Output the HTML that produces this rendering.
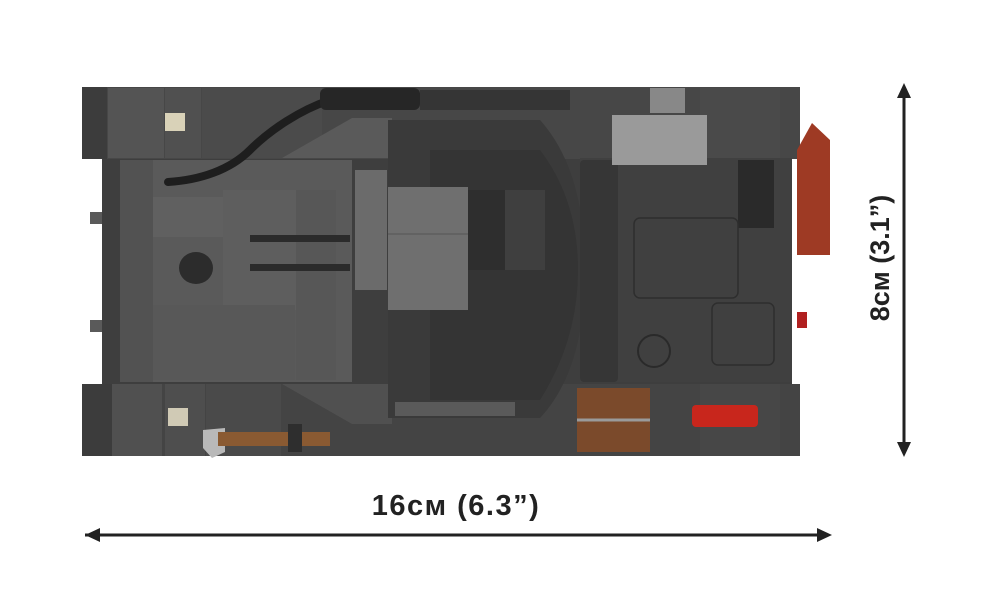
<!DOCTYPE html>
<html><head><meta charset="utf-8"><style>
html,body{margin:0;padding:0;background:#fff;width:996px;height:590px;overflow:hidden}
svg{display:block}
</style></head><body>
<svg width="996" height="590" viewBox="0 0 996 590" xmlns="http://www.w3.org/2000/svg">
<rect x="90" y="212" width="30" height="12" fill="#5a5a5a"/>
<rect x="90" y="320" width="30" height="12" fill="#5a5a5a"/>
<rect x="102" y="158" width="690" height="226" fill="#3e3e3e"/>
<rect x="82" y="87" width="718" height="72" fill="#474747"/>
<rect x="82" y="87" width="25" height="72" fill="#3c3c3c"/>
<rect x="108" y="88" width="56" height="70" fill="#545454"/>
<rect x="165" y="88" width="36" height="70" fill="#505050"/>
<rect x="202" y="88" width="120" height="70" fill="#4b4b4b"/>
<rect x="420" y="90" width="150" height="20" fill="#353535"/>
<rect x="700" y="88" width="80" height="70" fill="#4a4a4a"/>
<rect x="82" y="384" width="718" height="72" fill="#444"/>
<rect x="82" y="384" width="30" height="72" fill="#3c3c3c"/>
<rect x="112" y="384" width="50" height="72" fill="#505050"/>
<rect x="165" y="384" width="40" height="72" fill="#4e4e4e"/>
<rect x="206" y="384" width="75" height="72" fill="#4a4a4a"/>
<rect x="700" y="384" width="80" height="72" fill="#474747"/>
<rect x="120" y="160" width="232" height="222" fill="#5a5a5a"/>
<rect x="120" y="160" width="33" height="222" fill="#525252"/>
<rect x="153" y="197" width="70" height="40" fill="#606060"/>
<rect x="223" y="190" width="73" height="120" fill="#5e5e5e"/>
<rect x="153" y="305" width="142" height="75" fill="#585858"/>
<rect x="296" y="190" width="40" height="190" fill="#575757"/>
<polygon points="282,158 352,118 392,118 392,158" fill="#5a5a5a"/>
<polygon points="282,384 352,424 392,424 392,384" fill="#505050"/>
<path d="M388 120 L540 120 Q585 170 585 270 Q585 370 540 418 L388 418 Z" fill="#3a3a3a"/>
<path d="M430 150 L540 150 Q578 200 578 270 Q578 340 540 400 L430 400 Z" fill="#343434"/>
<rect x="355" y="170" width="32" height="120" fill="#6b6b6b"/>
<rect x="388" y="187" width="80" height="123" fill="#6f6f6f"/>
<line x1="388" y1="234" x2="468" y2="234" stroke="#555" stroke-width="1"/>
<rect x="468" y="190" width="40" height="80" fill="#2e2e2e"/>
<rect x="505" y="190" width="40" height="80" fill="#3f3f3f"/>
<rect x="395" y="402" width="120" height="14" fill="#5a5a5a"/>
<rect x="250" y="235" width="100" height="7" fill="#2b2b2b"/>
<rect x="250" y="264" width="100" height="7" fill="#2b2b2b"/>
<rect x="580" y="158" width="212" height="224" fill="#404040"/>
<rect x="580" y="160" width="38" height="222" rx="4" fill="#363636"/>
<rect x="738" y="160" width="36" height="68" fill="#2a2a2a"/>
<rect x="634" y="218" width="104" height="80" rx="6" fill="none" stroke="#2e2e2e" stroke-width="1.5"/>
<rect x="712" y="303" width="62" height="62" rx="6" fill="none" stroke="#2e2e2e" stroke-width="1.5"/>
<circle cx="654" cy="351" r="16" fill="none" stroke="#2a2a2a" stroke-width="2"/>
<rect x="612" y="115" width="95" height="50" fill="#9a9a9a"/>
<rect x="650" y="88" width="35" height="25" fill="#888"/>
<path d="M330 100 C300 110 270 130 250 150 C230 170 200 180 168 182" fill="none" stroke="#1e1e1e" stroke-width="8" stroke-linecap="round"/>
<rect x="320" y="88" width="100" height="22" rx="6" fill="#262626"/>
<rect x="165" y="113" width="20" height="18" fill="#d9d2b8"/>
<rect x="168" y="408" width="20" height="18" fill="#d0cab5"/>
<ellipse cx="196" cy="268" rx="17" ry="16" fill="#2c2c2c"/>
<path d="M812 123 L830 140 L830 255 L797 255 L797 150 Z" fill="#9e3a24"/>
<rect x="797" y="312" width="10" height="16" fill="#b02020"/>
<rect x="577" y="388" width="73" height="64" fill="#7b4a2b"/>
<line x1="577" y1="420" x2="650" y2="420" stroke="#9a9a9a" stroke-width="3"/>
<rect x="692" y="405" width="66" height="22" rx="4" fill="#c8261c"/>
<polygon points="203,430 225,428 225,452 212,458 203,448" fill="#b9b9b9"/>
<rect x="218" y="432" width="112" height="14" fill="#8a5a32"/>
<rect x="288" y="424" width="14" height="28" fill="#2e2e2e"/>
<line x1="85" y1="535" x2="820" y2="535" stroke="#222" stroke-width="3"/>
<polygon points="832,535 817,528 817,542" fill="#222"/>
<polygon points="85,535 100,528 100,542" fill="#222"/>
<line x1="904" y1="95" x2="904" y2="446" stroke="#222" stroke-width="3"/>
<polygon points="904,83 897,98 911,98" fill="#222"/>
<polygon points="904,457 897,442 911,442" fill="#222"/>
<text x="456" y="515" text-anchor="middle" font-family="Liberation Sans, sans-serif" font-weight="bold" font-size="29" letter-spacing="1.5" fill="#222">16см (6.3”)</text>
<text x="0" y="0" transform="translate(889,258) rotate(-90)" text-anchor="middle" font-family="Liberation Sans, sans-serif" font-weight="bold" font-size="27" fill="#222">8см (3.1”)</text>
</svg>
</body></html>
